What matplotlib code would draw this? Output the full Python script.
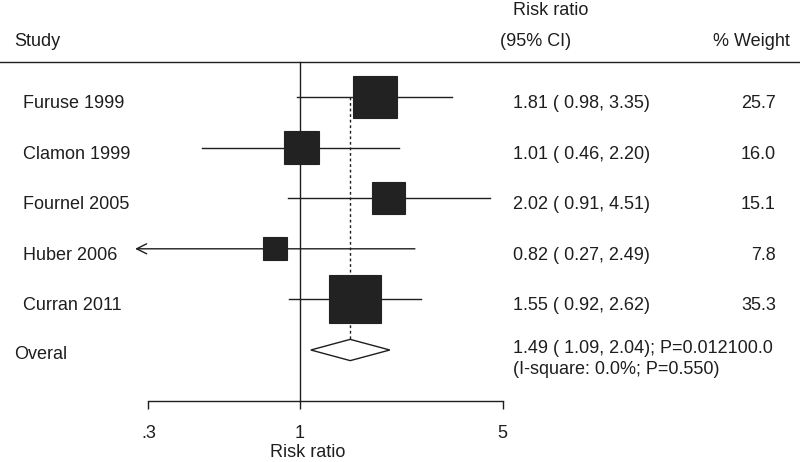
import numpy as np
import matplotlib
matplotlib.use("Agg")
import matplotlib.pyplot as plt
from matplotlib.patches import Rectangle, Polygon
from matplotlib.transforms import blended_transform_factory

# ---------------- data ----------------
studies = ["Furuse 1999", "Clamon 1999", "Fournel 2005", "Huber 2006", "Curran 2011"]
rr = [1.81, 1.01, 2.02, 0.82, 1.55]
lower = [0.98, 0.46, 0.91, 0.27, 0.92]
upper = [3.35, 2.20, 4.51, 2.49, 2.62]
weights = [25.7, 16.0, 15.1, 7.8, 35.3]
overall_rr = 1.49
overall_lo = 1.09
overall_hi = 2.04
overall_p = "0.012100.0"
i2_text = "(I-square: 0.0%; P=0.550)"
xticks = [0.3, 1, 5]
xticklabels = [".3", "1", "5"]

# ---------------- layout ----------------
W, H = 800, 462
plt.rcParams["font.family"] = ["Liberation Sans", "DejaVu Sans"]
FS = 13
INK = "#1e1e1e"
LW = 1.0

fig = plt.figure(figsize=(W / 100, H / 100), dpi=100)
ax = fig.add_axes([0, 0, 1, 1])
ax.set_xscale("log")
PX_DEC = 290.0
X1 = 300.0
ax.set_xlim(10 ** (-X1 / PX_DEC), 10 ** ((W - X1) / PX_DEC))
Y0, DY = 97.0, 50.6


def row_of(py):
    return (py - Y0) / DY


ax.set_ylim(row_of(H), row_of(0))
for s in ["top", "left", "right"]:
    ax.spines[s].set_visible(False)
ax.spines["bottom"].set_position(("data", row_of(401)))
ax.spines["bottom"].set_bounds(min(xticks), max(xticks))
ax.spines["bottom"].set_linewidth(LW)
ax.spines["bottom"].set_color(INK)
ax.set_xticks(xticks)
ax.set_xticklabels(xticklabels, fontsize=FS, color=INK)
ax.set_xticks([], minor=True)
ax.tick_params(axis="x", direction="out", length=6, width=LW, color=INK, pad=11)
ax.set_yticks([])
ax.patch.set_visible(False)

tx = blended_transform_factory(fig.transFigure, ax.transData)


def fx(px):
    return px / W


def fy(py):
    return 1 - py / H


# top rule
ax.axhline(row_of(62), color=INK, lw=LW)
# null line
ax.plot([1, 1], [row_of(62), row_of(401)], color=INK, lw=LW)

n = len(studies)
rows = np.arange(n)
# overall dashed line
dh = 0.21
ax.plot([overall_rr, overall_rr], [rows[0], n - dh], color=INK, lw=LW,
        ls=(0, (2, 2)), zorder=1)

for i in rows:
    lo, hi, r, w = lower[i], upper[i], rr[i], weights[i]
    if lo < min(xticks):
        ax.annotate("", xy=(lo, i), xytext=(hi, i),
                    arrowprops=dict(arrowstyle="->", lw=LW, color=INK,
                                    shrinkA=0, shrinkB=0, mutation_scale=18))
    else:
        ax.plot([lo, hi], [i, i], color=INK, lw=LW, zorder=2)
    hw = 0.015 * np.sqrt(w)
    hh = 0.080 * np.sqrt(w)
    ax.add_patch(Rectangle((r / 10 ** hw, i - hh), r * 10 ** hw - r / 10 ** hw,
                           2 * hh, facecolor="#222222", edgecolor="#222222",
                           lw=0.8, zorder=3))
    ax.text(fx(23), i + 0.217, studies[i], transform=tx, fontsize=FS,
            color=INK, va="baseline", ha="left")
    ax.text(fx(513), i + 0.217, f"{r:.2f} ( {lo:.2f}, {hi:.2f})",
            transform=tx, fontsize=FS, color=INK, va="baseline", ha="left")
    ax.text(fx(776), i + 0.217, f"{w:.1f}", transform=tx, fontsize=FS,
            color=INK, va="baseline", ha="right")

# overall diamond
ax.add_patch(Polygon([(overall_lo, n), (overall_rr, n - dh), (overall_hi, n),
                      (overall_rr, n + dh)], closed=True, facecolor="white",
                     edgecolor=INK, lw=LW, zorder=3))
ax.text(fx(14), n + 0.18, "Overal", transform=tx, fontsize=FS, color=INK,
        va="baseline", ha="left")
ax.text(fx(513), n + 0.06,
        f"{overall_rr:.2f} ( {overall_lo:.2f}, {overall_hi:.2f}); P={overall_p}",
        transform=tx, fontsize=FS, color=INK, va="baseline", ha="left")
ax.text(fx(513), n + 0.47, i2_text, transform=tx, fontsize=FS, color=INK,
        va="baseline", ha="left")

# headers
fig.text(fx(14), fy(46), "Study", fontsize=FS, color=INK, va="baseline", ha="left")
fig.text(fx(513), fy(15), "Risk ratio", fontsize=FS, color=INK, va="baseline", ha="left")
fig.text(fx(500), fy(46), "(95% CI)", fontsize=FS, color=INK, va="baseline", ha="left")
fig.text(fx(790), fy(46), "% Weight", fontsize=FS, color=INK, va="baseline", ha="right")

# x title
fig.text(fx(308), fy(457), "Risk ratio", fontsize=FS, color=INK, va="baseline", ha="center")

fig.savefig("out.png", dpi=100)
